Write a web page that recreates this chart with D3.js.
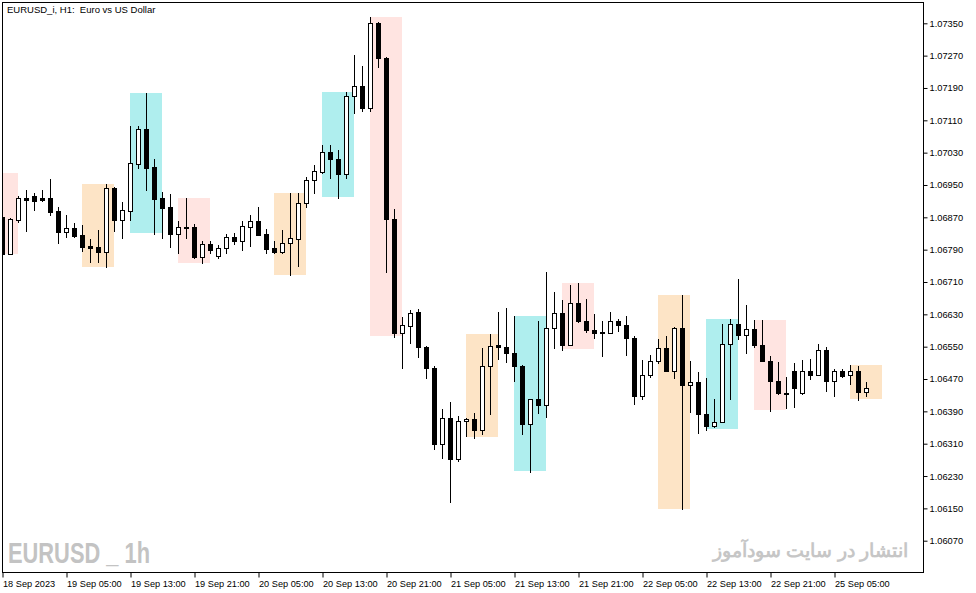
<!DOCTYPE html>
<html>
<head>
<meta charset="utf-8">
<script src="https://cdn.jsdelivr.net/npm/d3@7"></script>
<style>
  body { margin: 0; background: #fff; }
  text { font-family: "Liberation Sans", Arial, sans-serif; }
</style>
</head>
<body>
<div id="chart"></div>
<script>
// EURUSD H1, one entry per hourly bar (index 0 = 18 Sep 2023 21:00)
var opens = [
  1.06871,1.06780,1.06864,1.06917,1.06923,1.06917,1.06918,1.06886,1.06834,1.06843,
  1.06826,1.06799,1.06797,1.06783,1.06942,1.06863,1.06886,1.07003,1.07088,1.06994,
  1.06917,1.06896,1.06829,1.06847,1.06846,1.06773,1.06804,1.06775,1.06793,1.06821,
  1.06812,1.06847,1.06861,1.06829,1.06794,1.06785,1.06806,1.06817,1.06905,1.06962,
  1.06983,1.07031,1.07015,1.06978,1.07169,1.07194,1.07141,1.07350,1.07265,1.06865,
  1.06585,1.06600,1.06635,1.06550,1.06498,1.06310,1.06373,1.06271,1.06365,1.06370,
  1.06345,1.06501,1.06553,1.06550,1.06534,1.06503,1.06358,1.06420,1.06406,1.06595,
  1.06633,1.06555,1.06657,1.06614,1.06592,1.06587,1.06583,1.06613,1.06603,1.06572,
  1.06429,1.06479,1.06514,1.06546,1.06491,1.06596,1.06456,1.06462,1.06383,1.06353,
  1.06364,1.06556,1.06605,1.06580,1.06593,1.06553,1.06515,1.06466,1.06435,1.06491,
  1.06435,1.06489,1.06481,1.06543,1.06466,1.06489,1.06479,1.06489,1.06439
];
var highs = [
  1.06873,1.06868,1.06923,1.06938,1.06929,1.06938,1.06965,1.06896,1.06876,1.06856,
  1.06851,1.06816,1.06839,1.06952,1.06944,1.06908,1.07096,1.07097,1.07178,1.07014,
  1.06933,1.06928,1.06861,1.06918,1.06853,1.06811,1.06811,1.06801,1.06828,1.06832,
  1.06860,1.06876,1.06896,1.06841,1.06811,1.06839,1.06929,1.06929,1.06969,1.06999,
  1.07048,1.07048,1.07036,1.07179,1.07272,1.07244,1.07366,1.07352,1.07267,1.06891,
  1.06623,1.06641,1.06643,1.06551,1.06501,1.06395,1.06412,1.06379,1.06374,1.06386,
  1.06547,1.06581,1.06636,1.06646,1.06626,1.06504,1.06421,1.06613,1.06734,1.06685,
  1.06665,1.06703,1.06707,1.06668,1.06631,1.06613,1.06636,1.06618,1.06626,1.06576,
  1.06517,1.06529,1.06569,1.06576,1.06598,1.06679,1.06515,1.06488,1.06472,1.06420,
  1.06606,1.06618,1.06717,1.06654,1.06616,1.06616,1.06527,1.06513,1.06476,1.06510,
  1.06517,1.06519,1.06557,1.06548,1.06495,1.06495,1.06505,1.06502,1.06463
];
var lows = [
  1.06779,1.06779,1.06859,1.06837,1.06889,1.06911,1.06876,1.06807,1.06821,1.06822,
  1.06787,1.06760,1.06760,1.06748,1.06837,1.06820,1.06864,1.06993,1.06938,1.06829,
  1.06820,1.06797,1.06782,1.06820,1.06770,1.06758,1.06781,1.06770,1.06781,1.06804,
  1.06790,1.06800,1.06826,1.06781,1.06781,1.06781,1.06728,1.06750,1.06895,1.06931,
  1.06979,1.06968,1.06919,1.06968,1.07127,1.07134,1.07134,1.07243,1.06735,1.06575,
  1.06498,1.06560,1.06525,1.06473,1.06298,1.06275,1.06166,1.06268,1.06330,1.06325,
  1.06335,1.06384,1.06520,1.06513,1.06466,1.06335,1.06241,1.06387,1.06377,1.06547,
  1.06542,1.06554,1.06611,1.06587,1.06572,1.06528,1.06583,1.06588,1.06530,1.06409,
  1.06421,1.06474,1.06510,1.06490,1.06472,1.06148,1.06389,1.06337,1.06345,1.06352,
  1.06363,1.06420,1.06570,1.06535,1.06548,1.06514,1.06392,1.06434,1.06399,1.06401,
  1.06434,1.06471,1.06480,1.06441,1.06429,1.06474,1.06457,1.06419,1.06429
];
var closes = [
  1.06780,1.06865,1.06917,1.06914,1.06911,1.06914,1.06884,1.06834,1.06843,1.06825,
  1.06797,1.06795,1.06785,1.06942,1.06864,1.06887,1.07004,1.07088,1.06993,1.06916,
  1.06894,1.06829,1.06846,1.06844,1.06772,1.06804,1.06790,1.06793,1.06821,1.06812,
  1.06849,1.06860,1.06827,1.06792,1.06784,1.06806,1.06818,1.06905,1.06962,1.06984,
  1.07031,1.07015,1.06978,1.07169,1.07194,1.07141,1.07350,1.07265,1.06865,1.06585,
  1.06603,1.06633,1.06550,1.06498,1.06310,1.06373,1.06271,1.06365,1.06370,1.06345,
  1.06501,1.06551,1.06549,1.06534,1.06503,1.06358,1.06420,1.06406,1.06595,1.06633,
  1.06555,1.06657,1.06614,1.06592,1.06585,1.06583,1.06613,1.06603,1.06572,1.06429,
  1.06479,1.06514,1.06546,1.06491,1.06596,1.06456,1.06462,1.06383,1.06353,1.06364,
  1.06556,1.06605,1.06580,1.06593,1.06553,1.06515,1.06466,1.06435,1.06433,1.06447,
  1.06489,1.06481,1.06543,1.06466,1.06489,1.06478,1.06489,1.06439,1.06447
];

// session boxes: first bar index, range high / low, session name
var sessionStart = [-2, 10, 16, 22, 34, 40, 46, 58, 64, 70, 82, 88, 94, 106];
var sessionHigh = [1.06980,1.06952,1.07178,1.06918,1.06930,1.07180,1.07366,1.06581,1.06626,1.06707,1.06679,1.06618,1.06616,1.06505];
var sessionLow  = [1.06779,1.06748,1.06831,1.06758,1.06728,1.06920,1.06576,1.06326,1.06242,1.06544,1.06148,1.06346,1.06393,1.06421];
var sessionName = ["newyork","tokyo","london","newyork","tokyo","london","newyork","tokyo","london","newyork","tokyo","london","newyork","tokyo"];

var timeTicks = [0, 8, 16, 24, 32, 40, 48, 56, 64, 72, 80, 88, 96, 104];
var timeLabels = ["18 Sep 2023","19 Sep 05:00","19 Sep 13:00","19 Sep 21:00","20 Sep 05:00",
  "20 Sep 13:00","20 Sep 21:00","21 Sep 05:00","21 Sep 13:00","21 Sep 21:00",
  "22 Sep 05:00","22 Sep 13:00","22 Sep 21:00","25 Sep 05:00"];
var priceTicks = [1.07350,1.07270,1.07190,1.07110,1.07030,1.06950,1.06870,1.06790,1.06710,
  1.06630,1.06550,1.06470,1.06390,1.06310,1.06230,1.06150,1.06070];

var sessionColor = { tokyo: "#fde4c6", london: "#afeeee", newyork: "#ffe4e1" };

var svgWidth = 976;
var svgHeight = 593;
var plot = { left: 2, top: 2, right: 923, bottom: 572 };

var svg = d3.select("#chart")
  .append("svg")
  .attr("width", svgWidth)
  .attr("height", svgHeight)
  .style("display", "block");

svg.append("rect").attr("width", svgWidth).attr("height", svgHeight).attr("fill", "#fff");

var x = d3.scaleLinear().domain([0, 108]).range([2.5, 866.5]);
var y = d3.scaleLinear().domain([1.0607, 1.0735]).range([540.7, 23.3]);

svg.append("clipPath").attr("id", "plotclip")
  .append("rect")
  .attr("x", plot.left).attr("y", plot.top)
  .attr("width", plot.right - plot.left).attr("height", plot.bottom - plot.top);

var plotArea = svg.append("g").attr("clip-path", "url(#plotclip)");

// session ranges
plotArea.selectAll("rect.session")
  .data(sessionStart)
  .enter()
  .append("rect")
  .attr("class", "session")
  .attr("x", d => x(d) - 0.5)
  .attr("width", d => x(d + 4) - x(d))
  .attr("y", (d, i) => Math.round(y(sessionHigh[i])))
  .attr("height", (d, i) => Math.round(y(sessionLow[i])) - Math.round(y(sessionHigh[i])))
  .attr("fill", (d, i) => sessionColor[sessionName[i]]);

// candles
var bars = d3.range(opens.length);
var candles = plotArea.selectAll("g.candle")
  .data(bars)
  .enter()
  .append("g")
  .attr("class", "candle");

candles.append("line")
  .attr("x1", i => x(i)).attr("x2", i => x(i))
  .attr("y1", i => Math.round(y(highs[i])))
  .attr("y2", i => Math.round(y(lows[i])) + 1)
  .attr("stroke", "#000")
  .attr("stroke-width", 1);

candles.append("rect")
  .each(function(i) {
    var top = Math.round(y(Math.max(opens[i], closes[i])));
    var bot = Math.round(y(Math.min(opens[i], closes[i])));
    var r = d3.select(this);
    if (closes[i] >= opens[i] && bot - top >= 2) {
      r.attr("x", x(i) - 2).attr("y", top + 0.5)
        .attr("width", 4).attr("height", bot - top)
        .attr("fill", "#fff").attr("stroke", "#000").attr("stroke-width", 1);
    } else {
      r.attr("x", x(i) - 2.5).attr("y", top)
        .attr("width", 5).attr("height", Math.max(2, bot - top + 1))
        .attr("fill", "#000");
    }
  });

// frame
svg.append("rect")
  .attr("x", plot.left + 0.5).attr("y", plot.top + 0.5)
  .attr("width", plot.right - plot.left).attr("height", plot.bottom - plot.top)
  .attr("fill", "none").attr("stroke", "#000").attr("stroke-width", 1);

// price axis
var rightAxis = d3.axisRight(y)
  .tickValues(priceTicks)
  .tickFormat(d3.format(".5f"))
  .tickSize(4)
  .tickPadding(2)
  .tickSizeOuter(0);

var yAxis = svg.append("g")
  .attr("transform", `translate(${plot.right + 0.5}, 0)`)
  .call(rightAxis);
yAxis.select(".domain").remove();
yAxis.selectAll("text").attr("font-size", 9.3).attr("fill", "#000")
  .attr("font-family", "Liberation Sans, Arial, sans-serif");
yAxis.selectAll("line").attr("stroke", "#000");

// time axis
var bottomAxis = d3.axisBottom(x)
  .tickValues(timeTicks)
  .tickFormat((d, i) => timeLabels[i])
  .tickSize(5)
  .tickSizeOuter(0);

var xAxis = svg.append("g")
  .attr("transform", `translate(0, ${plot.bottom + 0.5})`)
  .call(bottomAxis);
xAxis.select(".domain").remove();
xAxis.selectAll("line").attr("stroke", "#000");
xAxis.selectAll("text")
  .attr("text-anchor", "start")
  .attr("x", 0)
  .attr("y", 8)
  .attr("font-size", 9.2).attr("fill", "#000")
  .attr("font-family", "Liberation Sans, Arial, sans-serif");

// title
svg.append("text")
  .attr("x", 7)
  .attr("y", 12.5)
  .attr("font-size", 9.5)
  .attr("fill", "#000")
  .style("white-space", "pre")
  .text("EURUSD_i, H1:  Euro vs US Dollar");

// watermarks
svg.append("text")
  .attr("x", 8)
  .attr("y", 562.5)
  .attr("font-size", 29)
  .attr("font-weight", "bold")
  .attr("font-family", "Liberation Sans Narrow, DejaVu Sans Condensed, sans-serif")
  .attr("textLength", 142)
  .attr("lengthAdjust", "spacingAndGlyphs")
  .attr("fill", "#c3c3c3")
  .style("white-space", "pre")
  .text("EURUSD _ 1h");

svg.append("text")
  .attr("x", 908)
  .attr("y", 557)
  .attr("text-anchor", "end")
  .attr("font-size", 19.4)
  .attr("font-weight", "bold")
  .attr("font-family", "DejaVu Sans, sans-serif")
  .attr("fill", "#c6c6c6")
  .text("انتشار در سایت سودآموز");
</script>
</body>
</html>
